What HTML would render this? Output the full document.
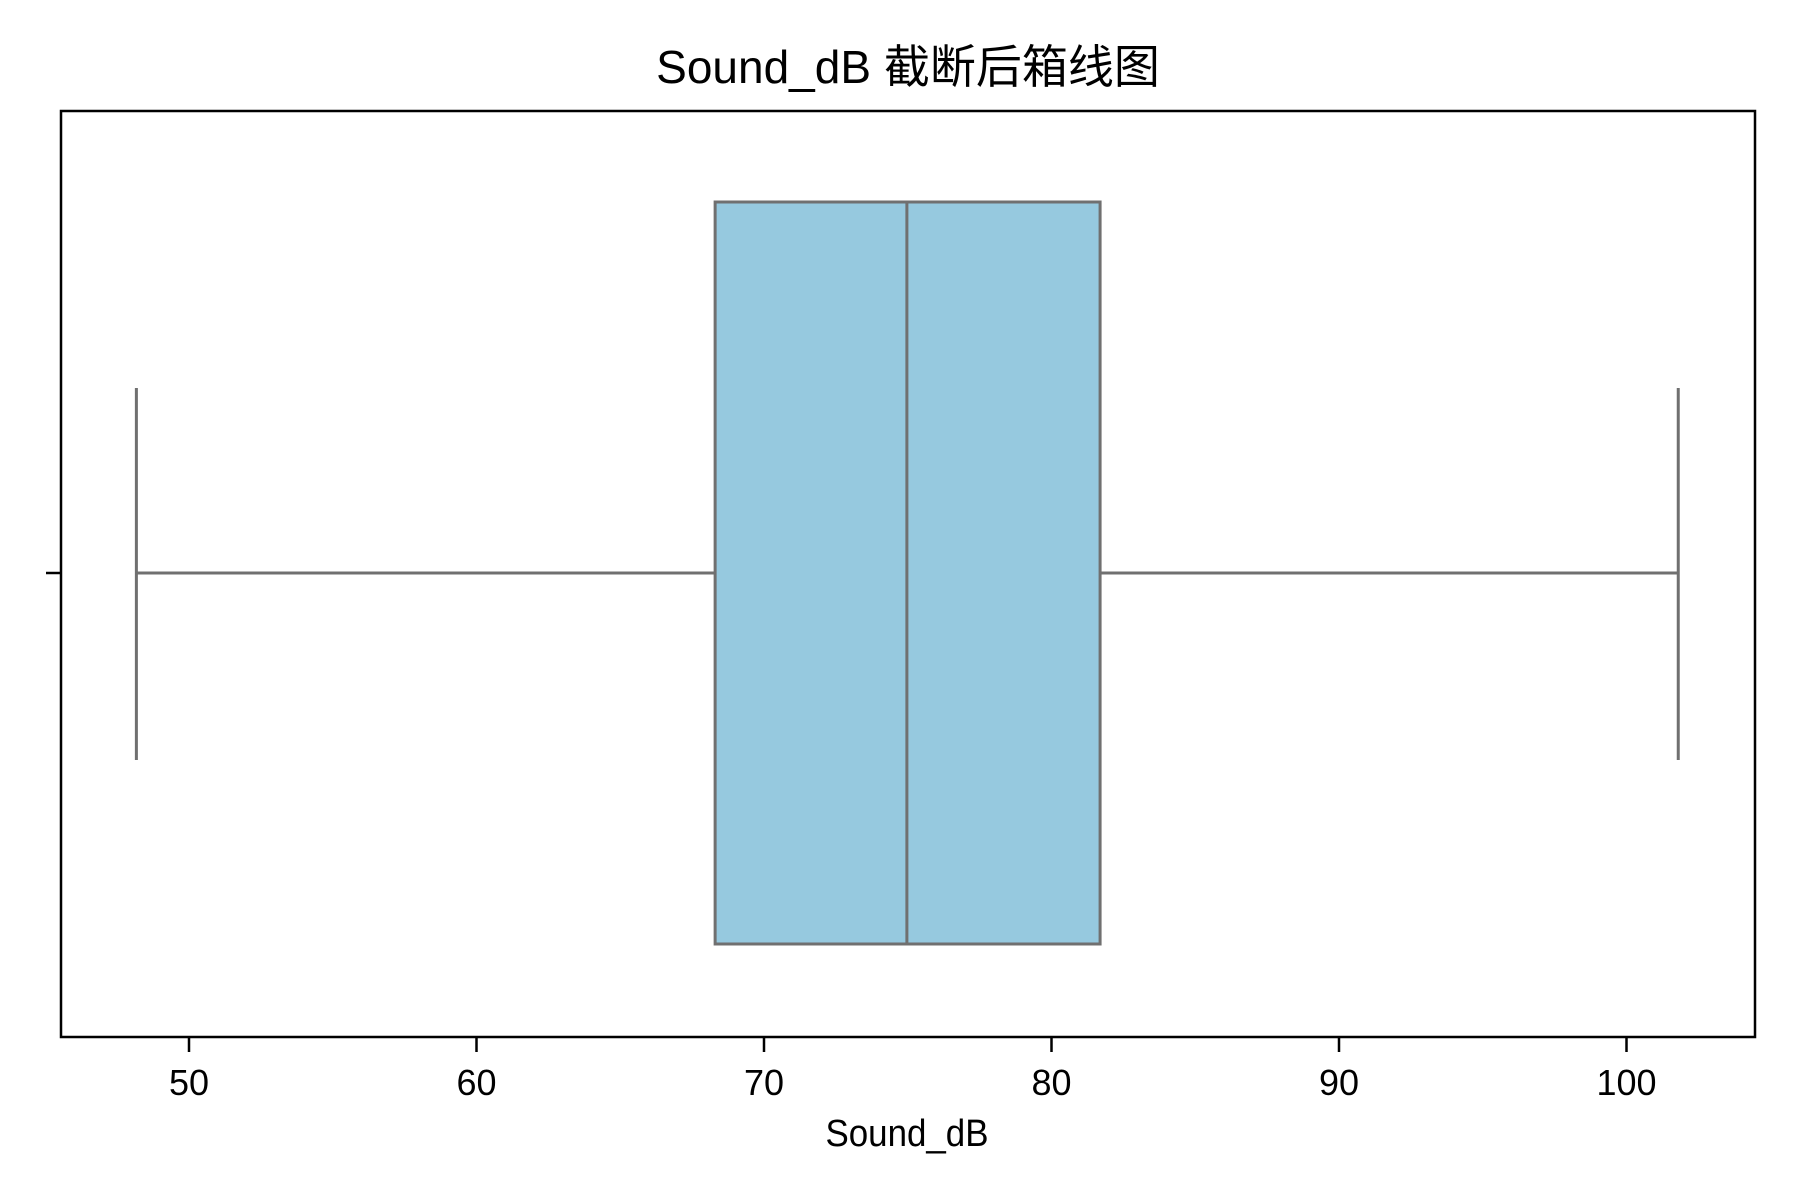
<!DOCTYPE html>
<html><head><meta charset="utf-8"><style>html,body{margin:0;padding:0;background:#fff}svg{display:block}</style></head>
<body>
<svg id="chart" width="1800" height="1200" viewBox="0 0 1800 1200" xmlns="http://www.w3.org/2000/svg">
<rect width="1800" height="1200" fill="#fff"/>
<text x="908" y="83" text-anchor="middle" font-family="'Liberation Sans','Noto Sans CJK SC',sans-serif" font-size="46" fill="#000">Sound_dB 截断后箱线图</text>
<g id="plot"></g>
<rect x="61" y="111" width="1694" height="926" fill="none" stroke="#000" stroke-width="2.5"/>
<line x1="46" y1="573" x2="61" y2="573" stroke="#000" stroke-width="2.5"/>
<g id="xticks"></g>
<text x="907" y="1146" text-anchor="middle" textLength="163" lengthAdjust="spacingAndGlyphs" font-family="'Liberation Sans',sans-serif" font-size="38" fill="#000">Sound_dB</text>
</svg>
<script>
const tickValues = [50, 60, 70, 80, 90, 100];
const tickLabels = ["50", "60", "70", "80", "90", "100"];
const whiskerLow = [48.17];
const q1 = [68.3];
const median = [74.97];
const q3 = [81.69];
const whiskerHigh = [101.8];

const NS = "http://www.w3.org/2000/svg";
function x(v){ return 764 + (v - 70) * 28.75; }
const yc = 573, boxTop = 202, boxBot = 944, capTop = 388, capBot = 760;
function mk(tag, attrs, parent){
  const e = document.createElementNS(NS, tag);
  for (const k in attrs) e.setAttribute(k, attrs[k]);
  parent.appendChild(e); return e;
}
const plot = document.getElementById('plot');
const stroke = "#707070";
let e;
e = mk('line', {x1:x(whiskerLow[0]), y1:yc, x2:x(q1[0]), y2:yc, stroke:stroke, 'stroke-width':3}, plot);


e = mk('line', {x1:x(q3[0]), y1:yc, x2:x(whiskerHigh[0]), y2:yc, stroke:stroke, 'stroke-width':3}, plot);


e = mk('line', {x1:x(whiskerLow[0]), y1:capTop, x2:x(whiskerLow[0]), y2:capBot, stroke:stroke, 'stroke-width':3}, plot);


e = mk('line', {x1:x(whiskerHigh[0]), y1:capTop, x2:x(whiskerHigh[0]), y2:capBot, stroke:stroke, 'stroke-width':3}, plot);


e = mk('rect', {x:x(q1[0]), y:boxTop, width:x(q3[0])-x(q1[0]), height:boxBot-boxTop, fill:"#96c9df", stroke:stroke, 'stroke-width':3}, plot);


e = mk('line', {x1:x(median[0]), y1:boxTop, x2:x(median[0]), y2:boxBot, stroke:stroke, 'stroke-width':3}, plot);



const xt = document.getElementById('xticks');
tickValues.forEach((v, i) => {
  const t = mk('line', {x1:x(v), y1:1037, x2:x(v), y2:1052, stroke:"#000", 'stroke-width':2.5}, xt);
  
  
  const l = mk('text', {x:x(v), y:1095, 'text-anchor':'middle', 'font-family':"'Liberation Sans',sans-serif", 'font-size':36, fill:'#000'}, xt);
  l.textContent = tickLabels[i];
  
  
});
</script>
</body></html>
